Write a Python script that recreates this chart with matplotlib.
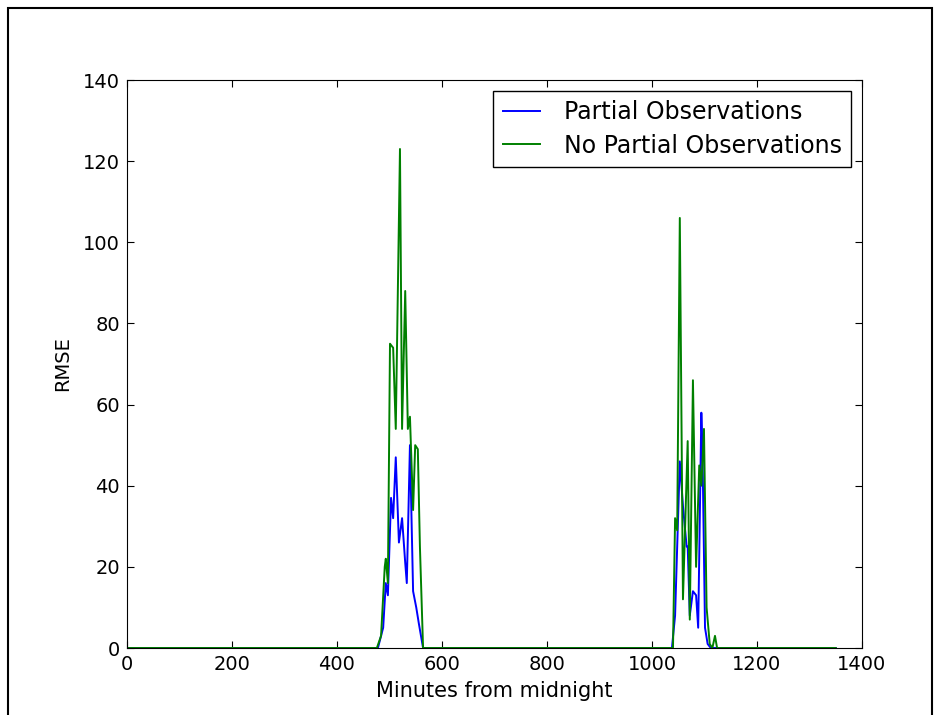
import numpy as np
import matplotlib
matplotlib.use("Agg")
import matplotlib.pyplot as plt
from matplotlib.patches import Rectangle

##### Data #####
partial_min = [0, 478, 488, 493, 497, 503, 507, 512, 518, 524, 530, 533, 539, 545, 551, 556, 564,
               1038, 1044, 1048, 1053, 1059, 1066, 1068, 1072, 1078, 1084, 1088, 1094, 1096, 1101, 1106, 1112, 1350]
partial_rmse = [0, 0, 5, 16, 13, 37, 32, 47, 26, 32, 21, 16, 50, 14, 10, 6, 0,
                0, 8, 25, 46, 35, 25, 25, 8, 14, 13, 5, 58, 50, 5, 1, 0, 0]

nopartial_min = [0, 476, 484, 491, 493, 497, 501, 507, 512, 520, 524, 530, 535, 539, 545, 549, 554, 558, 564,
                 1040, 1044, 1048, 1053, 1059, 1068, 1072, 1078, 1084, 1090, 1094, 1099, 1104, 1110, 1115, 1120, 1124, 1350]
nopartial_rmse = [0, 0, 3, 20, 22, 16, 75, 74, 54, 123, 54, 88, 54, 57, 34, 50, 49, 25, 0,
                  0, 32, 29, 106, 12, 51, 7, 66, 20, 45, 40, 54, 10, 1, 0, 3, 0, 0]

xticks = [0, 200, 400, 600, 800, 1000, 1200, 1400]
yticks = [0, 20, 40, 60, 80, 100, 120, 140]

##### Plot #####
fig = plt.figure(figsize=(9.46, 7.15), dpi=100)
ax = fig.add_axes([0.1342, 0.0937, 0.7770, 0.7944])

ax.plot(partial_min, partial_rmse, color='b', lw=1.4, label='Partial Observations')
ax.plot(nopartial_min, nopartial_rmse, color='g', lw=1.4, label='No Partial Observations')

ax.set_xlim(0, 1400)
ax.set_ylim(0, 140)
ax.set_xticks(xticks)
ax.set_yticks(yticks)
ax.tick_params(direction='in', top=True, right=True, length=5, labelsize=14, pad=5)
ax.set_xlabel('Minutes from midnight', fontsize=15, labelpad=5)
ax.set_ylabel('RMSE', fontsize=14, labelpad=8)

leg = ax.legend(loc='upper right', fontsize=17, fancybox=False, framealpha=1,
                edgecolor='black', borderaxespad=0.45, handlelength=1.6,
                handletextpad=1.0, labelspacing=0.4, borderpad=0.4)
leg.get_frame().set_linewidth(1.0)

# outer frame around the figure
fig.patches.append(Rectangle((8 / 946, -0.05), (932 - 8) / 946, 1 - 8 / 715 + 0.05,
                             transform=fig.transFigure, fill=False, edgecolor='black', lw=1.5))

fig.savefig('out.png', dpi=100)
